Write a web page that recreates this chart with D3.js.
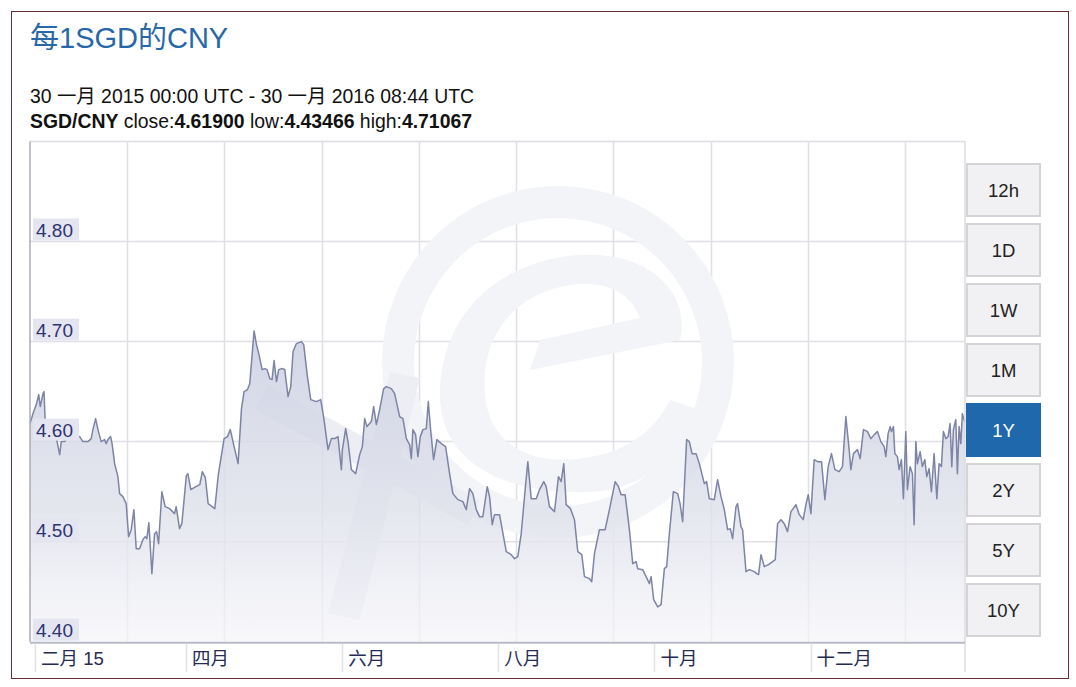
<!DOCTYPE html>
<html>
<head>
<meta charset="utf-8">
<script src="https://cdn.jsdelivr.net/npm/d3@7"></script>
<style>
  html, body { margin: 0; padding: 0; background: #ffffff; }
  svg { display: block; }
  text { font-family: "Liberation Sans", Arial, "Noto Sans CJK SC", sans-serif; }
</style>
</head>
<body>
<svg id="chart" width="1076" height="687"></svg>
<script>
// ---------- DATA ----------
const title = "每1SGD的CNY";
const rangeText = "30 一月 2015 00:00 UTC - 30 一月 2016 08:44 UTC";
const pairName = "SGD/CNY";
const statLabels = ["close:", "low:", "high:"];
const statValues = ["4.61900", "4.43466", "4.71067"];
const startDate = "2015-01-30T00:00:00Z";
const endDate = "2016-01-30T08:44:00Z";

// days elapsed since 30 Jan 2015
const days = [
0,1.17,2.46,3.40,4.02,5.07,5.47,5.97,7.03,10.27,11.59,12.22,13.55,15.50,19.40,20.69,22.64,23.93,24.59,25.65,
26.55,27.83,29.16,29.79,30.45,31.50,32.13,33.07,34.35,35.02,36.30,37.59,38.53,39.55,40.60,41.50,42.82,44.11,45.01,45.67,
46.45,47.63,48.68,49.46,50.24,51.53,52.82,54.54,56.49,57.11,58.44,59.34,61.09,61.68,62.85,64.80,66.36,67.34,68.51,69.61,
72.22,73.59,75.85,77.18,78.27,79.76,81.32,82.64,83.66,84.99,85.88,87.56,88.50,89.40,90.69,91.74,92.64,93.69,94.59,95.37,
96.31,97.20,98.26,99.55,100.84,101.89,102.79,104.11,106.07,106.96,108.41,109.70,111.92,113.60,114.89,116.45,117.78,119.07,120.35,121.68,
122.07,123.36,124.26,125.58,127.26,128.83,129.88,130.78,131.67,133.39,134.29,135.35,136.63,138.19,139.25,141.20,142.49,144.44,145.73,147.06,
148.34,149.01,149.63,150.68,151.58,152.52,153.54,154.86,155.64,156.54,157.71,159.00,160.72,162.40,163.96,165.25,167.20,169.15,170.48,171.77,
173.06,174.38,175.67,176.96,178.68,179.57,180.63,181.53,183.48,186.10,188.05,189.34,190.62,191.95,193.24,194.53,195.85,197.80,199.09,200.77,
201.70,202.99,204.95,206.51,207.56,208.58,209.52,211.20,212.76,214.05,215.61,216.66,218.61,219.51,220.57,222.52,224.74,226.42,228.65,229.94,
230.99,232.55,234.23,235.52,236.85,237.47,239.42,240.75,242.04,242.70,243.71,245.28,246.60,247.89,248.79,249.84,251.40,253.08,254.02,255.03,
256.59,257.65,258.70,260.26,261.55,263.50,264.40,265.45,267.40,268.69,270.02,271.31,272.60,273.65,274.55,275.88,276.50,277.83,278.45,279.78,
281.07,283.02,283.92,284.70,285.64,286.93,288.61,290.17,291.22,292.12,293.45,294.73,296.02,297.35,299.30,300.59,302.15,303.20,304.10,305.15,
306.44,307.73,309.29,310.62,311.90,313.19,314.52,316.20,317.49,318.81,320.10,320.77,321.78,323.34,324.40,325.69,327.25,328.58,329.87,331.15,
332.48,333.77,334.43,335.33,336.11,336.62,337.40,337.95,338.96,339.63,340.52,341.30,342.24,342.86,343.92,344.82,345.48,346.15,346.77,347.83,
348.72,349.66,350.44,351.34,352.24,353.29,354.35,355.24,356.14,356.92,357.86,358.76,359.54,360.21,360.83,361.77,362.39,363.06,363.72,364.34,
365.36];
const rates = [
4.618,4.628,4.637,4.647,4.635,4.648,4.650,4.618,4.609,4.604,4.587,4.600,4.600,4.609,4.605,4.600,4.600,4.603,4.612,4.623,
4.612,4.600,4.602,4.598,4.602,4.605,4.597,4.578,4.565,4.548,4.545,4.538,4.505,4.512,4.532,4.493,4.493,4.502,4.505,4.503,
4.519,4.468,4.508,4.510,4.498,4.550,4.535,4.533,4.528,4.535,4.513,4.518,4.566,4.568,4.552,4.555,4.557,4.570,4.564,4.538,
4.533,4.567,4.603,4.605,4.612,4.595,4.578,4.633,4.650,4.652,4.658,4.7107,4.697,4.688,4.672,4.673,4.672,4.663,4.662,4.681,
4.660,4.672,4.673,4.672,4.645,4.655,4.690,4.698,4.700,4.697,4.665,4.642,4.640,4.642,4.622,4.592,4.603,4.603,4.605,4.572,
4.592,4.613,4.600,4.572,4.568,4.587,4.595,4.623,4.615,4.620,4.635,4.617,4.632,4.653,4.655,4.653,4.648,4.625,4.623,4.603,
4.597,4.583,4.612,4.607,4.585,4.605,4.612,4.613,4.640,4.612,4.582,4.602,4.598,4.595,4.568,4.548,4.542,4.540,4.532,4.553,
4.548,4.532,4.525,4.525,4.555,4.545,4.517,4.527,4.527,4.490,4.487,4.483,4.485,4.508,4.545,4.580,4.543,4.543,4.552,4.560,
4.555,4.535,4.530,4.565,4.560,4.578,4.537,4.533,4.522,4.490,4.487,4.465,4.463,4.460,4.488,4.512,4.512,4.532,4.560,4.555,
4.547,4.547,4.512,4.478,4.480,4.473,4.472,4.465,4.458,4.465,4.442,4.4347,4.437,4.473,4.475,4.508,4.550,4.548,4.538,4.520,
4.602,4.600,4.588,4.588,4.578,4.558,4.560,4.543,4.542,4.562,4.545,4.532,4.512,4.513,4.503,4.535,4.538,4.515,4.512,4.470,
4.472,4.470,4.468,4.467,4.487,4.475,4.477,4.480,4.482,4.518,4.522,4.518,4.510,4.530,4.537,4.527,4.522,4.537,4.547,4.528,
4.582,4.580,4.580,4.542,4.575,4.588,4.572,4.570,4.575,4.625,4.592,4.572,4.588,4.592,4.583,4.612,4.610,4.603,4.607,4.610,
4.600,4.595,4.585,4.608,4.615,4.610,4.615,4.588,4.585,4.572,4.582,4.543,4.610,4.552,4.575,4.568,4.517,4.600,4.578,4.590,
4.575,4.582,4.565,4.573,4.550,4.588,4.543,4.578,4.575,4.610,4.603,4.605,4.618,4.575,4.612,4.622,4.568,4.615,4.598,4.628,
4.619];

const yTicks = [4.40, 4.50, 4.60, 4.70, 4.80];
const yDomain = [4.40, 4.90];
const monthTicks = ["2015-02-01", "2015-04-01", "2015-06-01", "2015-08-01", "2015-10-01", "2015-12-01"];
const monthLabels = ["二月 15", "四月", "六月", "八月", "十月", "十二月"];
const gridStepDays = 38;
const gridCount = 9;
const buttons = ["12h", "1D", "1W", "1M", "1Y", "2Y", "5Y", "10Y"];
const activeButton = "1Y";

// ---------- DRAW ----------
const svg = d3.select("#chart");
const plot = { left: 30, right: 965, top: 141.5, bottom: 641.7 };

const t0 = new Date(startDate);
const t1 = new Date(endDate);
const DAY = 86400000;
const series = days.map((d, i) => ({ date: new Date(t0.getTime() + d * DAY), v: rates[i] }));

const x = d3.scaleUtc().domain([t0, t1]).range([plot.left, plot.right]);
const y = d3.scaleLinear().domain(yDomain).range([plot.bottom, plot.top]);

// outer frame
svg.append("rect").attr("x", 11.5).attr("y", 11.5).attr("width", 1057).attr("height", 667)
  .attr("fill", "#fff").attr("stroke", "#6e2b35").attr("stroke-width", 1);

// header texts
svg.append("text").attr("x", 30).attr("y", 48).attr("font-size", 29).attr("fill", "#2868a8").text(title);
svg.append("text").attr("x", 30).attr("y", 103).attr("font-size", 19.4).attr("fill", "#111").text(rangeText);
const stat = svg.append("text").attr("x", 30).attr("y", 128).attr("font-size", 19.4).attr("fill", "#111");
stat.append("tspan").attr("font-weight", "bold").text(pairName);
statLabels.forEach((lab, i) => {
  stat.append("tspan").text(" " + lab);
  stat.append("tspan").attr("font-weight", "bold").text(statValues[i]);
});

// defs
const defs = svg.append("defs");
const grad = defs.append("linearGradient").attr("id", "areaGrad")
  .attr("gradientUnits", "userSpaceOnUse").attr("x1", 0).attr("x2", 0)
  .attr("y1", y(4.72)).attr("y2", plot.bottom);
grad.append("stop").attr("offset", "0%").attr("stop-color", "#c9cde0").attr("stop-opacity", 0.85);
grad.append("stop").attr("offset", "60%").attr("stop-color", "#dfe1eb").attr("stop-opacity", 0.8);
grad.append("stop").attr("offset", "100%").attr("stop-color", "#f5f5f9").attr("stop-opacity", 0.7);
defs.append("clipPath").attr("id", "plotClip").append("rect")
  .attr("x", plot.left).attr("y", plot.top).attr("width", plot.right - plot.left).attr("height", plot.bottom - plot.top);

// grid
const gridG = svg.append("g");
const gridDates = d3.range(1, gridCount + 1).map(k => d3.utcDay.offset(t0, k * gridStepDays));
gridG.selectAll("line.v").data(gridDates).join("line")
  .attr("x1", d => Math.round(x(d)) + 0.5).attr("x2", d => Math.round(x(d)) + 0.5)
  .attr("y1", plot.top).attr("y2", plot.bottom)
  .attr("stroke", "#e0e0e6").attr("stroke-width", 1.5);
gridG.selectAll("line.h").data(yTicks.slice(1)).join("line")
  .attr("x1", plot.left).attr("x2", plot.right)
  .attr("y1", d => y(d)).attr("y2", d => y(d))
  .attr("stroke", "#e0e0e6").attr("stroke-width", 1.5);

// watermark (xe logo, faint)
const wm = svg.append("g").attr("clip-path", "url(#plotClip)");
wm.append("circle").attr("cx", 558).attr("cy", 362).attr("r", 160).attr("fill", "none")
  .attr("stroke", "#f3f4f8").attr("stroke-width", 32);
wm.append("path").attr("d", "M440,395 C440,300 520,250 600,255 C660,260 690,300 680,340 L530,370 L540,340 L640,318 C630,290 600,280 570,285 C510,295 480,340 485,395 C490,450 540,470 600,455 C640,445 660,420 670,400 L700,410 C680,460 640,490 590,492 C500,495 440,460 440,395 Z")
  .attr("fill", "#f3f4f8");
wm.append("path").attr("d", "M390,372 L420,378 L360,620 L328,614 Z").attr("fill", "#eceef4");
wm.append("path").attr("d", "M255,410 L268,385 L480,500 L468,525 Z").attr("fill", "#eceef4");

// area + line
const dataG = svg.append("g").attr("clip-path", "url(#plotClip)");
const area = d3.area().x(d => x(d.date)).y0(plot.bottom).y1(d => y(d.v));
const line = d3.line().x(d => x(d.date)).y(d => y(d.v));
dataG.append("path").datum(series).attr("d", area).attr("fill", "url(#areaGrad)");
dataG.append("path").datum(series).attr("d", line)
  .attr("fill", "none").attr("stroke", "#7d84a5").attr("stroke-width", 1.5).attr("stroke-linejoin", "round");

// plot frame
svg.append("line").attr("x1", plot.left).attr("x2", plot.right).attr("y1", plot.top).attr("y2", plot.top)
  .attr("stroke", "#dcdce2").attr("stroke-width", 1.5);
svg.append("line").attr("x1", plot.right).attr("x2", plot.right).attr("y1", plot.top).attr("y2", 672)
  .attr("stroke", "#dcdce2").attr("stroke-width", 1.5);
svg.append("line").attr("x1", plot.left).attr("x2", plot.left).attr("y1", plot.top).attr("y2", plot.bottom)
  .attr("stroke", "#a9abb8").attr("stroke-width", 1.5);
svg.append("line").attr("x1", plot.left).attr("x2", plot.right).attr("y1", plot.bottom + 1).attr("y2", plot.bottom + 1)
  .attr("stroke", "#b8bac8").attr("stroke-width", 2);

// y labels
const yl = svg.append("g").selectAll("g").data(yTicks).join("g");
yl.append("rect").attr("x", 33).attr("y", d => y(d) - 23).attr("width", 46).attr("height", 22)
  .attr("fill", "#e4e5f1");
yl.append("text").attr("x", 36).attr("y", d => y(d) - 5).attr("font-size", 19).attr("fill", "#2d3470")
  .text(d => d.toFixed(2));

// x axis labels
const mt = monthTicks.map(s => new Date(s + "T00:00:00Z"));
const xl = svg.append("g").selectAll("g").data(mt).join("g");
xl.append("line").attr("x1", d => Math.round(x(d)) + 0.5).attr("x2", d => Math.round(x(d)) + 0.5)
  .attr("y1", plot.bottom + 2).attr("y2", 672).attr("stroke", "#e2e2e8").attr("stroke-width", 1.5);
xl.append("text").attr("x", d => x(d) + 6).attr("y", 665).attr("font-size", 18.5).attr("fill", "#262b55")
  .text((d, i) => monthLabels[i]);

// buttons
const bx = d3.scaleBand().domain(buttons).range([164, 636]).paddingInner(8 / 60).paddingOuter(0);
const bg = svg.append("g").selectAll("g").data(buttons).join("g");
bg.append("rect").attr("x", 967).attr("y", d => bx(d)).attr("width", 73).attr("height", bx.bandwidth())
  .attr("fill", d => d === activeButton ? "#1f68ac" : "#f1f1f4")
  .attr("stroke", d => d === activeButton ? "#1f68ac" : "#d3d3d8").attr("stroke-width", 2);
bg.append("text").attr("x", 1003.5).attr("y", d => bx(d) + bx.bandwidth() / 2 + 6.5)
  .attr("text-anchor", "middle").attr("font-size", 18.5)
  .attr("fill", d => d === activeButton ? "#ffffff" : "#222").text(d => d);
</script>
</body>
</html>
